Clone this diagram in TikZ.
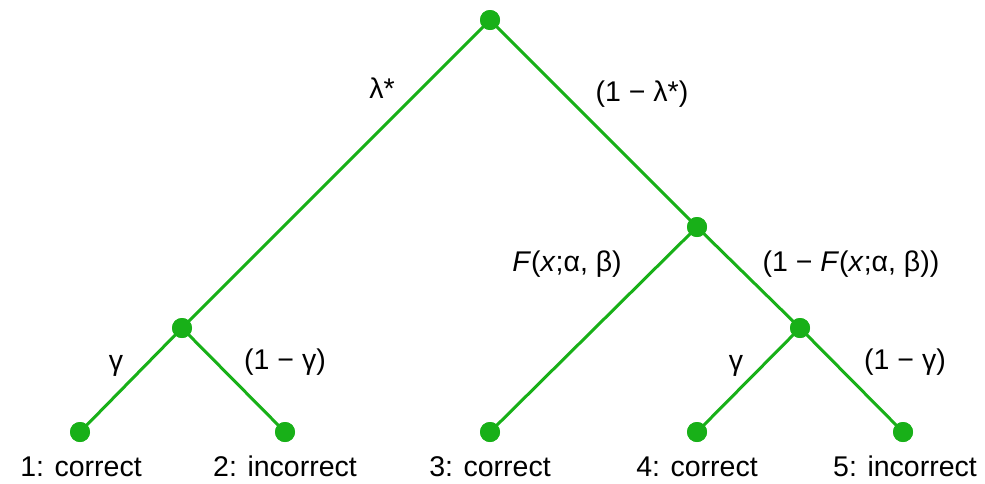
\documentclass[tikz,border=0pt]{standalone}
\usepackage{fontspec}
\setmainfont{Liberation Sans}
\definecolor{treegreen}{RGB}{24,176,24}
\begin{document}
\begin{tikzpicture}[x=1pt,y=-1pt,
  dot/.style={circle,fill=treegreen,inner sep=0pt,minimum size=20pt},
  edge/.style={draw=treegreen,line width=3pt},
  lbl/.style={font=\fontsize{28.5}{32}\selectfont,inner sep=0pt},
  leaf/.style={font=\fontsize{28.5}{32}\selectfont,inner sep=0pt,anchor=base}]
\useasboundingbox (0,0) rectangle (985,483);
\node[dot] (r) at (490,20) {};
\node[dot] (a) at (182,328) {};
\node[dot] (b) at (697,227) {};
\node[dot] (c) at (800,328) {};
\node[dot] (l1) at (80,432) {};
\node[dot] (l2) at (285,432) {};
\node[dot] (l3) at (490,432) {};
\node[dot] (l4) at (697,432) {};
\node[dot] (l5) at (903,432) {};
\draw[edge] (r.center) -- (a.center);
\draw[edge] (r.center) -- (b.center);
\draw[edge] (a.center) -- (l1.center);
\draw[edge] (a.center) -- (l2.center);
\draw[edge] (b.center) -- (l3.center);
\draw[edge] (b.center) -- (c.center);
\draw[edge] (c.center) -- (l4.center);
\draw[edge] (c.center) -- (l5.center);
\node[dot] at (r) {};
\node[dot] at (a) {};
\node[dot] at (b) {};
\node[dot] at (c) {};
\node[dot] at (l1) {};
\node[dot] at (l2) {};
\node[dot] at (l3) {};
\node[dot] at (l4) {};
\node[dot] at (l5) {};
\node[lbl] (t1) at (382,88) {λ*};
\node[lbl] (t2) at (642,94) {(1 − λ*)};
\node[lbl] (t3) at (567,264) {\textit{F}(\textit{x};α, β)};
\node[lbl] (t4) at (851,264) {(1 − \textit{F}(\textit{x};α, β))};
\node[lbl] (t5) at (116,366) {γ};
\node[lbl] (t6) at (285,362) {(1 − γ)};
\node[lbl] (t7) at (736,366) {γ};
\node[lbl] (t8) at (905,362) {(1 − γ)};
\node[leaf] (n1) at (81,476) {1: correct};
\node[leaf] (n2) at (285,476) {2: incorrect};
\node[leaf] (n3) at (490,476) {3: correct};
\node[leaf] (n4) at (697,476) {4: correct};
\node[leaf] (n5) at (905,476) {5: incorrect};
\end{tikzpicture}
\end{document}
